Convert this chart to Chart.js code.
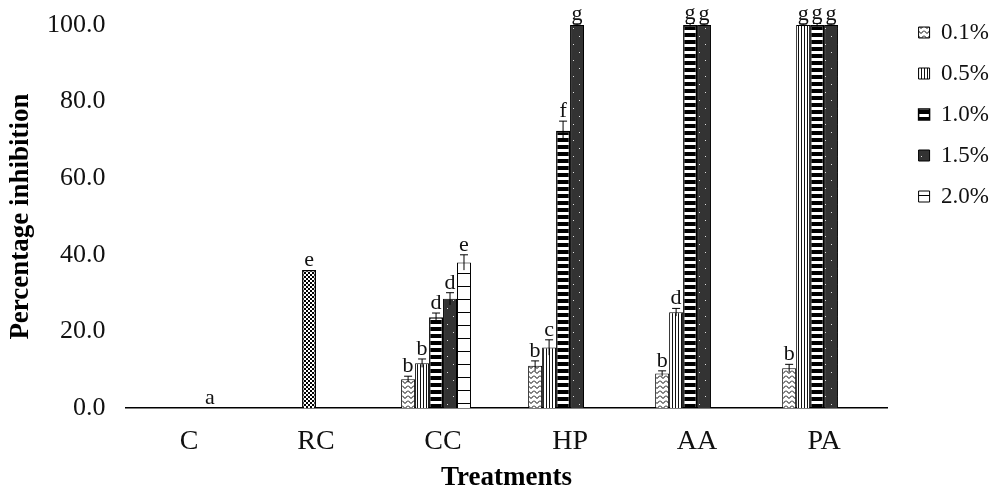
<!DOCTYPE html>
<html>
<head>
<meta charset="utf-8">
<script src="https://cdn.jsdelivr.net/npm/chart.js@4.4.0/dist/chart.umd.min.js"></script>
<style>
  html, body { margin: 0; padding: 0; background: #fff; }
  #wrap { width: 996px; height: 490px; }
</style>
</head>
<body>
<div id="wrap"><canvas id="myChart"></canvas></div>
<script>
// categories and series
const treatments = ['C', 'RC', 'CC', 'HP', 'AA', 'PA'];
const seriesNames = ['0.1%', '0.5%', '1.0%', '1.5%', '2.0%'];

// percentage inhibition per concentration (null = no bar)
const conc01 = [null, null, 7.5, 11.0, 9.0, 10.4];
const conc05 = [null, null, 11.7, 15.8, 25.0, 100];
const conc10 = [null, 36.0, 23.7, 72.4, 100, 100];
const conc15 = [null, null, 28.5, 100, 100, 100];
const conc20 = [null, null, 38.0, null, null, null];

// error bars
const err01 = [null, null, 0.8, 1.3, 0.7, 1.0];
const err05 = [null, null, 1.1, 2.0, 1.0, 0.3];
const err10 = [null, 0, 1.1, 2.5, 0.4, 0.4];
const err15 = [null, null, 1.6, 0.3, 0.3, 0.3];
const err20 = [null, null, 2.0, null, null, null];

// significance letters
const let01 = ['', '', 'b', 'b', 'b', 'b'];
const let05 = ['', '', 'b', 'c', 'd', 'g'];
const let10 = ['', 'e', 'd', 'f', 'g', 'g'];
const let15 = ['', '', 'd', 'g', 'g', 'g'];
const let20 = ['a', '', 'e', '', '', ''];

const yTicks = [0, 20, 40, 60, 80, 100];

const SERIF = "'Liberation Serif', 'Times New Roman', serif";

// ---- fill patterns ----
function tile(w, h, draw) {
  const c = document.createElement('canvas');
  c.width = w; c.height = h;
  const g = c.getContext('2d');
  draw(g);
  return g.createPattern(c, 'repeat');
}

const zigzag = tile(6, 5, g => {
  g.fillStyle = '#fff'; g.fillRect(0, 0, 6, 5);
  g.strokeStyle = '#000'; g.lineWidth = 1;
  g.beginPath(); g.moveTo(0, 0.5); g.lineTo(3, 3.5); g.lineTo(6, 0.5); g.stroke();
});
const vstripe = tile(3, 1, g => {
  g.fillStyle = '#fff'; g.fillRect(0, 0, 3, 1);
  g.fillStyle = '#111'; g.fillRect(0, 0, 1, 1);
});
const hstripe = tile(1, 7, g => {
  g.fillStyle = '#000'; g.fillRect(0, 0, 1, 7);
  g.fillStyle = '#fff'; g.fillRect(0, 2, 1, 3);
});
const dots = tile(12, 16, g => {
  g.fillStyle = '#333'; g.fillRect(0, 0, 12, 16);
  g.fillStyle = '#ddd';
  g.fillRect(3, 4, 1, 1); g.fillRect(9, 12, 1, 1);
});
const grid = tile(1, 13, g => {
  g.fillStyle = '#fff'; g.fillRect(0, 0, 1, 13);
  g.fillStyle = '#000'; g.fillRect(0, 0, 1, 1);
});
const checker = tile(4, 4, g => {
  g.fillStyle = '#fff'; g.fillRect(0, 0, 4, 4);
  g.fillStyle = '#000'; g.fillRect(0, 0, 2, 2); g.fillRect(2, 2, 2, 2);
});

function bar(label, data, fill, errs, letters, bw) {
  return {
    label: label,
    data: data,
    errs: errs,
    letters: letters,
    backgroundColor: fill,
    borderColor: '#000',
    borderWidth: bw || 1,
    borderSkipped: 'start'
  };
}

// error bars and letters
const marks = {
  id: 'marks',
  afterDatasetsDraw(chart) {
    const ctx = chart.ctx;
    const y = chart.scales.y;
    ctx.save();
    chart.data.datasets.forEach((ds, i) => {
      if (!ds.errs) return;
      const meta = chart.getDatasetMeta(i);
      meta.data.forEach((el, j) => {
        const v = ds.data[j];
        const e = ds.errs[j];
        let top = y.getPixelForValue(v == null ? 0 : v);
        if (v != null && e) {
          const hi = y.getPixelForValue(v + e);
          const lo = y.getPixelForValue(v - e);
          ctx.strokeStyle = '#000';
          ctx.lineWidth = 1;
          ctx.beginPath();
          ctx.moveTo(el.x, lo); ctx.lineTo(el.x, hi);
          ctx.moveTo(el.x - 4, hi); ctx.lineTo(el.x + 4, hi);
          ctx.stroke();
          top = hi;
        }
        const t = ds.letters[j];
        if (t) {
          ctx.fillStyle = '#111';
          ctx.font = '22px ' + SERIF;
          ctx.textAlign = 'center';
          ctx.textBaseline = 'alphabetic';
          ctx.fillText(t, el.x, top - 4);
        }
      });
    });
    ctx.restore();
  }
};

// push the legend column a little to the right, away from the plot
const legendShift = {
  id: 'legendShift',
  afterLayout(chart) {
    chart.legend.left += 13;
    chart.legend.right += 13;
  }
};

const ctx = document.getElementById('myChart').getContext('2d');
new Chart(ctx, {
  type: 'bar',
  data: {
    labels: treatments,
    datasets: [
      bar(seriesNames[0], conc01, zigzag, err01, let01),
      bar(seriesNames[1], conc05, vstripe, err05, let05),
      bar(seriesNames[2], conc10, c => (c.dataIndex === 1 ? checker : hstripe), err10, let10, 1.5),
      bar(seriesNames[3], conc15, dots, err15, let15),
      bar(seriesNames[4], conc20, grid, err20, let20),
      { label: '', data: [null, null, null, null, null, null], backgroundColor: '#fff' }
    ]
  },
  options: {
    responsive: true,
    maintainAspectRatio: false,
    animation: false,
    devicePixelRatio: 1,
    layout: { padding: { top: 3, left: 8, right: 10, bottom: 0 } },
    datasets: { bar: { categoryPercentage: 0.66, barPercentage: 1.0 } },
    plugins: {
      tooltip: { enabled: false },
      legend: {
        position: 'right',
        align: 'start',
        labels: {
          filter: item => item.text !== '',
          font: { family: SERIF, size: 23 },
          color: '#111',
          boxWidth: 11,
          boxHeight: 11,
          padding: 18
        }
      }
    },
    scales: {
      x: {
        grid: { display: false },
        border: { display: true, color: '#000', width: 1.5 },
        ticks: { font: { family: SERIF, size: 28, lineHeight: 1.0 }, color: '#111', padding: 12 },
        title: {
          display: true,
          text: 'Treatments',
          font: { family: SERIF, size: 27, weight: 'bold', lineHeight: 1.0 },
          color: '#000',
          padding: { top: -3, bottom: -2 }
        }
      },
      y: {
        min: 0,
        max: 100,
        afterBuildTicks: axis => { axis.ticks = yTicks.map(v => ({ value: v })); },
        grid: { display: false },
        border: { display: false },
        ticks: {
          font: { family: SERIF, size: 26, lineHeight: 1.0 },
          color: '#111',
          padding: 12,
          callback: v => v.toFixed(1)
        },
        title: {
          display: true,
          text: 'Percentage inhibition',
          font: { family: SERIF, size: 27, weight: 'bold', lineHeight: 1.0 },
          color: '#000',
          padding: { top: 0, bottom: 0 }
        }
      }
    }
  },
  plugins: [marks, legendShift]
});
</script>
</body>
</html>
